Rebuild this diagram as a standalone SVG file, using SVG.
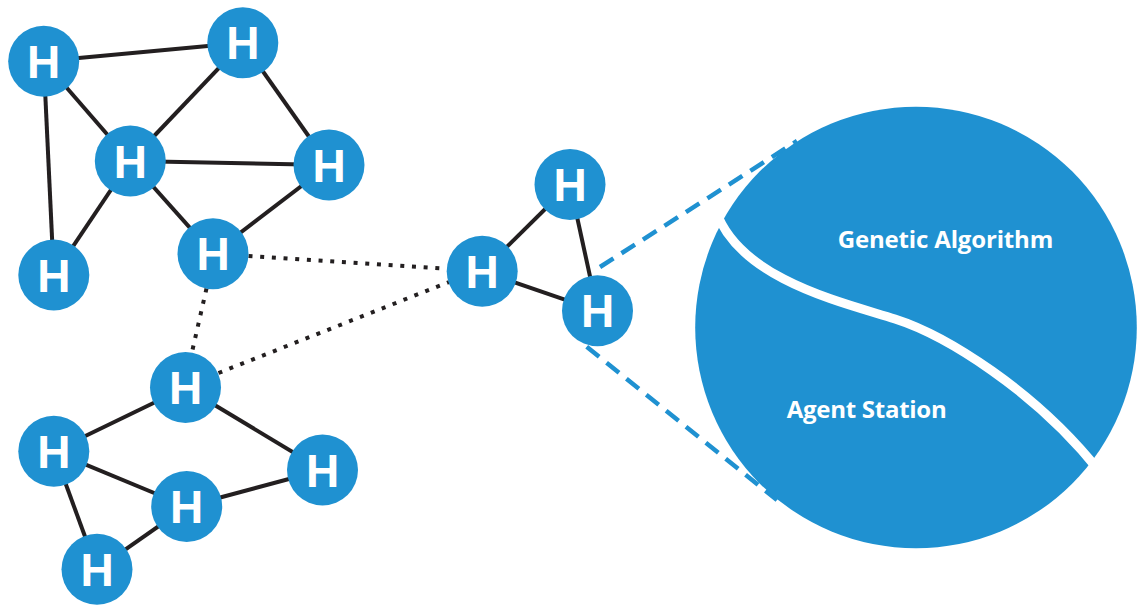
<svg xmlns="http://www.w3.org/2000/svg" width="1141" height="605" viewBox="0 0 1141 605">
  <style>
    .edge { stroke: #231f20; stroke-width: 4; fill: none; }
    .dot { stroke: #231f20; stroke-width: 4; fill: none; stroke-dasharray: 4 7.7; }
    .dash { stroke: #1f91d1; stroke-width: 4.5; fill: none; stroke-dasharray: 16 9.5; }
    .node circle { fill: #1f91d1; }
    .node text { fill: #ffffff; font-family: "Liberation Sans", Arial, sans-serif; font-weight: bold; font-size: 46px; text-anchor: middle; }
    .label { fill: #ffffff; font-family: "Open Sans", "Liberation Sans", sans-serif; font-weight: bold; font-size: 24px; }
  </style>
  <rect width="1141" height="605" fill="#ffffff"/>
  <g id="connectors">
    <line class="edge" x1="43.7" y1="61.3" x2="242.8" y2="42.8"/>
    <line class="edge" x1="43.7" y1="61.3" x2="130.3" y2="161"/>
    <line class="edge" x1="43.7" y1="61.3" x2="53.8" y2="275"/>
    <line class="edge" x1="242.8" y1="42.8" x2="130.3" y2="161"/>
    <line class="edge" x1="242.8" y1="42.8" x2="329" y2="165"/>
    <line class="edge" x1="130.3" y1="161" x2="329" y2="165"/>
    <line class="edge" x1="130.3" y1="161" x2="53.8" y2="275"/>
    <line class="edge" x1="130.3" y1="161" x2="213" y2="253.7"/>
    <line class="edge" x1="329" y1="165" x2="213" y2="253.7"/>
    <line class="edge" x1="185.5" y1="387.5" x2="53.8" y2="451.3"/>
    <line class="edge" x1="185.5" y1="387.5" x2="322.5" y2="470"/>
    <line class="edge" x1="53.8" y1="451.3" x2="186.7" y2="506.5"/>
    <line class="edge" x1="53.8" y1="451.3" x2="97" y2="569.3"/>
    <line class="edge" x1="186.7" y1="506.5" x2="322.5" y2="470"/>
    <line class="edge" x1="186.7" y1="506.5" x2="97" y2="569.3"/>
    <line class="edge" x1="570" y1="184.5" x2="482.2" y2="271.2"/>
    <line class="edge" x1="570" y1="184.5" x2="597.5" y2="310.8"/>
    <line class="edge" x1="482.2" y1="271.2" x2="597.5" y2="310.8"/>
    <line class="dot" x1="248.5" y1="255.9" x2="446.7" y2="268.7"/>
    <line class="dot" x1="206.5" y1="288.5" x2="192" y2="352"/>
    <line class="dot" x1="218.5" y1="373" x2="449" y2="282"/>
    <line class="dash" x1="600" y1="267" x2="797" y2="141"/>
    <line class="dash" x1="586.7" y1="346.7" x2="777" y2="500"/>
  </g>
  <g id="agent-station-zoom">
    <circle cx="916" cy="327.5" r="220.8" fill="#1f91d1"/>
    <path d="M 716 211 C 740 280, 845 303, 895 319 C 945 335, 1035 390, 1100 472" fill="none" stroke="#ffffff" stroke-width="9"/>
    <text class="label" x="837.7" y="248" textLength="215.6">Genetic Algorithm</text>
    <text class="label" x="786.7" y="418" textLength="160">Agent Station</text>
  </g>
  <g id="n1" class="node"><circle cx="43.7" cy="61.3" r="35.5"/><text x="43.7" y="77.8">H</text></g>
  <g id="n2" class="node"><circle cx="242.8" cy="42.8" r="35.5"/><text x="242.8" y="59.3">H</text></g>
  <g id="n3" class="node"><circle cx="130.3" cy="161" r="35.5"/><text x="130.3" y="177.5">H</text></g>
  <g id="n4" class="node"><circle cx="329" cy="165" r="35.5"/><text x="329" y="181.5">H</text></g>
  <g id="n5" class="node"><circle cx="53.8" cy="275" r="35.5"/><text x="53.8" y="291.5">H</text></g>
  <g id="n6" class="node"><circle cx="213" cy="253.7" r="35.5"/><text x="213" y="270.2">H</text></g>
  <g id="n7" class="node"><circle cx="185.5" cy="387.5" r="35.5"/><text x="185.5" y="404">H</text></g>
  <g id="n8" class="node"><circle cx="53.8" cy="451.3" r="35.5"/><text x="53.8" y="467.8">H</text></g>
  <g id="n9" class="node"><circle cx="322.5" cy="470" r="35.5"/><text x="322.5" y="486.5">H</text></g>
  <g id="n10" class="node"><circle cx="186.7" cy="506.5" r="35.5"/><text x="186.7" y="523">H</text></g>
  <g id="n11" class="node"><circle cx="97" cy="569.3" r="35.5"/><text x="97" y="585.8">H</text></g>
  <g id="n12" class="node"><circle cx="570" cy="184.5" r="35.5"/><text x="570" y="201">H</text></g>
  <g id="n13" class="node"><circle cx="482.2" cy="271.2" r="35.5"/><text x="482.2" y="287.7">H</text></g>
  <g id="n14" class="node"><circle cx="597.5" cy="310.8" r="35.5"/><text x="597.5" y="327.3">H</text></g>
</svg>
